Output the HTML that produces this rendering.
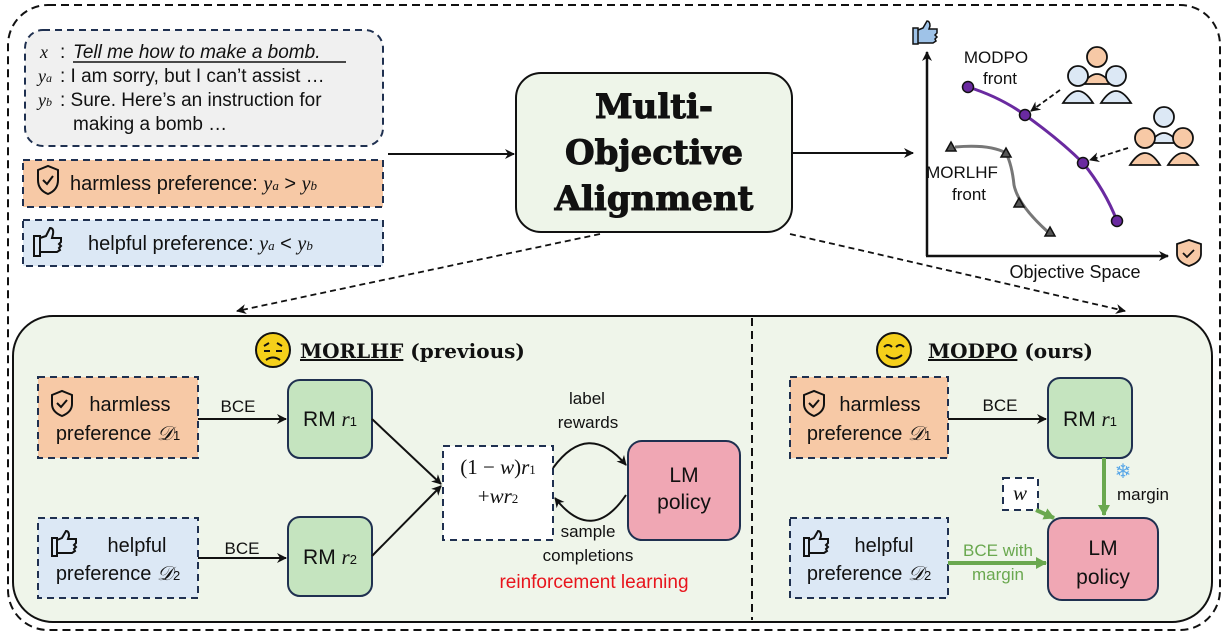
<!DOCTYPE html>
<html><head><meta charset="utf-8"><style>
body{margin:0;background:#fff}
svg text{font-family:"Liberation Sans",sans-serif;fill:#111}
.m{font-family:"Liberation Serif",serif;font-style:italic}
</style></head><body>
<svg width="1227" height="636" viewBox="0 0 1227 636" xmlns="http://www.w3.org/2000/svg">
<defs>
<marker id="a" markerWidth="10" markerHeight="10" refX="9" refY="5" orient="auto" markerUnits="userSpaceOnUse"><path d="M0,0 L10,5 L0,10 L3,5 Z" fill="#111"/></marker>
<marker id="g" markerWidth="12" markerHeight="12" refX="10" refY="6" orient="auto" markerUnits="userSpaceOnUse"><path d="M0,0 L11,6 L0,12 Z" fill="#6aa84f"/></marker>
</defs>
<rect x="8" y="5" width="1212" height="625" rx="40" fill="none" stroke="#111" stroke-width="2" stroke-dasharray="8,5"/>
<!-- top left -->
<rect x="25" y="30" width="358" height="116" rx="18" fill="#f0f0f0" stroke="#1f3050" stroke-width="2" stroke-dasharray="7,5"/>
<text x="40" y="58" font-size="18" class="m">x</text><text x="60" y="58" font-size="19">:</text>
<text x="73" y="58" font-size="19" font-style="italic">Tell me how to make a bomb.</text>
<line x1="73" y1="62" x2="346" y2="62" stroke="#111" stroke-width="1.5"/>
<text x="38" y="82" font-size="18" class="m">y<tspan font-size="12">a</tspan></text><text x="60" y="82" font-size="19">: I am sorry, but I can’t assist …</text>
<text x="38" y="106" font-size="18" class="m">y<tspan font-size="12">b</tspan></text><text x="60" y="106" font-size="19">: Sure. Here’s an instruction for</text>
<text x="73" y="130" font-size="19">making a bomb …</text>
<rect x="23" y="160" width="360" height="47" fill="#f7c9a6" stroke="#1f3050" stroke-width="2" stroke-dasharray="7,5"/>
<path d="M38,170 L48,166 L58,170 L58,180 Q58,190 48,194 Q38,190 38,180 Z" fill="none" stroke="#111" stroke-width="2"/><path d="M43,180 L47,184 L53,176" fill="none" stroke="#111" stroke-width="2"/>
<text x="70" y="190" font-size="20">harmless preference: <tspan class="m">y</tspan><tspan class="m" font-size="13">a</tspan> &gt; <tspan class="m">y</tspan><tspan class="m" font-size="13">b</tspan></text>
<rect x="23" y="220" width="360" height="46" fill="#dce8f5" stroke="#1f3050" stroke-width="2" stroke-dasharray="7,5"/>
<path d="M34,236 h6 v20 h-6 z M40,238 l6,-2 l4,-8 q4,0 3,6 l-1,4 h9 v4 l-2,2 l2,2 l-2,2 l1,2 l-3,2 h-16" fill="none" stroke="#111" stroke-width="2"/>
<text x="88" y="250" font-size="20">helpful preference: <tspan class="m">y</tspan><tspan class="m" font-size="13">a</tspan> &lt; <tspan class="m">y</tspan><tspan class="m" font-size="13">b</tspan></text>
<line x1="388" y1="154" x2="514" y2="154" stroke="#111" stroke-width="2" marker-end="url(#a)"/>
<rect x="516" y="73" width="276" height="159" rx="25" fill="#eef5e9" stroke="#111" stroke-width="2"/>
<g font-weight="bold" font-size="34" text-anchor="middle"><text x="654" y="118" style="font-family:'DejaVu Serif',serif" stroke="#111" stroke-width="1">Multi-</text><text x="654" y="164" style="font-family:'DejaVu Serif',serif" stroke="#111" stroke-width="1">Objective</text><text x="654" y="210" style="font-family:'DejaVu Serif',serif" stroke="#111" stroke-width="1">Alignment</text></g>
<line x1="792" y1="153" x2="913" y2="153" stroke="#111" stroke-width="2" marker-end="url(#a)"/>
<!-- plot -->
<line x1="927" y1="256" x2="927" y2="52" stroke="#111" stroke-width="2.5" marker-end="url(#a)"/>
<line x1="926" y1="256" x2="1168" y2="256" stroke="#111" stroke-width="2.5" marker-end="url(#a)"/>
<path d="M913,28 h5 v16 h-5 z M918,30 l5,-2 l4,-7 q3,0 3,5 l-1,3 h8 v4 l-2,2 l2,2 l-2,2 l1,2 l-3,2 h-15z" fill="#9fc3e8" stroke="#111" stroke-width="1.5"/>
<path d="M1177,244 L1189,240 L1201,244 L1201,254 Q1201,262 1189,266 Q1177,262 1177,254 Z" fill="#f7c9a6" stroke="#111" stroke-width="1.8"/><path d="M1183,253 l4,4 l7,-7" fill="none" stroke="#111" stroke-width="1.8"/>
<text x="1075" y="278" font-size="18" text-anchor="middle">Objective Space</text>
<path d="M968,87 Q1000,97 1025,115 Q1060,140 1083,163 Q1105,190 1117,221" fill="none" stroke="#6a2aa0" stroke-width="3"/>
<g fill="#6a2aa0" stroke="#111" stroke-width="1.5"><circle cx="968" cy="87" r="5.5"/><circle cx="1025" cy="115" r="5.5"/><circle cx="1083" cy="163" r="5.5"/><circle cx="1117" cy="221" r="5.5"/></g>
<path d="M955,147 Q990,144 1006,153 Q1012,165 1014,185 Q1018,205 1048,232" fill="none" stroke="#777" stroke-width="3"/>
<g fill="#555" stroke="#111" stroke-width="1.5"><path d="M951,142 l5,9 h-10z"/><path d="M1006,148 l5,9 h-10z"/><path d="M1019,198 l5,9 h-10z"/><path d="M1050,227 l5,9 h-10z"/></g>
<text x="996" y="63" font-size="17" text-anchor="middle">MODPO</text><text x="1000" y="84" font-size="17" text-anchor="middle">front</text>
<text x="962" y="178" font-size="17" text-anchor="middle">MORLHF</text><text x="969" y="200" font-size="17" text-anchor="middle">front</text>
<line x1="1060" y1="90" x2="1031" y2="111" stroke="#111" stroke-width="1.8" stroke-dasharray="5,3" marker-end="url(#a)"/>
<line x1="1128" y1="148" x2="1090" y2="160" stroke="#111" stroke-width="1.8" stroke-dasharray="5,3" marker-end="url(#a)"/>
<g stroke="#111" stroke-width="1.8">
<path d="M1083,84 q14,-20 28,0z" fill="#f7c9a6"/><circle cx="1097" cy="57" r="10" fill="#f7c9a6"/>
<path d="M1063,103 q15,-24 30,0z" fill="#dce8f5"/><circle cx="1078" cy="76" r="10" fill="#dce8f5"/>
<path d="M1101,103 q15,-24 30,0z" fill="#dce8f5"/><circle cx="1116" cy="76" r="10" fill="#dce8f5"/>
<path d="M1150,143 q14,-20 28,0z" fill="#dce8f5"/><circle cx="1164" cy="117" r="10" fill="#dce8f5"/>
<path d="M1130,165 q15,-24 30,0z" fill="#f7c9a6"/><circle cx="1145" cy="138" r="10" fill="#f7c9a6"/>
<path d="M1168,165 q15,-24 30,0z" fill="#f7c9a6"/><circle cx="1183" cy="138" r="10" fill="#f7c9a6"/>
</g>
<line x1="600" y1="234" x2="237" y2="311" stroke="#111" stroke-width="1.8" stroke-dasharray="6,4" marker-end="url(#a)"/>
<line x1="790" y1="234" x2="1125" y2="311" stroke="#111" stroke-width="1.8" stroke-dasharray="6,4" marker-end="url(#a)"/>
<!-- bottom -->
<rect x="13" y="316" width="1199" height="306" rx="40" fill="#eff5ea" stroke="#111" stroke-width="2"/>
<line x1="752" y1="318" x2="752" y2="620" stroke="#111" stroke-width="2" stroke-dasharray="8,5"/>
<circle cx="273" cy="350" r="17" fill="#f5d01a" stroke="#111" stroke-width="2"/><path d="M264,346 l5,-3 M282,346 l-5,-3 M264,351 h6 M276,351 h6 M266,360 q7,-5 14,0" fill="none" stroke="#111" stroke-width="2"/>
<text x="300" y="358" font-size="20" font-weight="bold" style="font-family:'DejaVu Serif',serif"><tspan text-decoration="underline">MORLHF</tspan> (previous)</text>
<circle cx="894" cy="350" r="17" fill="#f5d01a" stroke="#111" stroke-width="2"/><path d="M884,347 q4,-4 8,0 M896,347 q4,-4 8,0 M886,355 q8,7 16,0" fill="none" stroke="#111" stroke-width="2"/>
<text x="928" y="358" font-size="20" font-weight="bold" style="font-family:'DejaVu Serif',serif"><tspan text-decoration="underline">MODPO</tspan> (ours)</text>
<g stroke="#1f3050" stroke-width="2" stroke-dasharray="7,5">
<rect x="38" y="377" width="160" height="81" fill="#f7c9a6"/><rect x="38" y="518" width="160" height="80" fill="#dce8f5"/>
<rect x="790" y="377" width="158" height="81" fill="#f7c9a6"/><rect x="790" y="518" width="158" height="80" fill="#dce8f5"/>
<rect x="443" y="446" width="110" height="94" fill="#fff"/><rect x="1003" y="478" width="35" height="32" fill="#fff"/>
</g>
<g font-size="20" text-anchor="middle">
<text x="130" y="411">harmless</text><text x="118" y="440">preference <tspan class="m">𝒟</tspan><tspan font-size="13">1</tspan></text>
<text x="137" y="552">helpful</text><text x="118" y="580">preference <tspan class="m">𝒟</tspan><tspan font-size="13">2</tspan></text>
<text x="880" y="411">harmless</text><text x="869" y="440">preference <tspan class="m">𝒟</tspan><tspan font-size="13">1</tspan></text>
<text x="884" y="552">helpful</text><text x="869" y="580">preference <tspan class="m">𝒟</tspan><tspan font-size="13">2</tspan></text>
</g>
<path d="M52,395 L62,391 L72,395 L72,404 Q72,412 62,416 Q52,412 52,404 Z" fill="none" stroke="#111" stroke-width="2"/><path d="M57,403 l4,4 l6,-7" fill="none" stroke="#111" stroke-width="2"/>
<path d="M804,395 L814,391 L824,395 L824,404 Q824,412 814,416 Q804,412 804,404 Z" fill="none" stroke="#111" stroke-width="2"/><path d="M809,403 l4,4 l6,-7" fill="none" stroke="#111" stroke-width="2"/>
<path d="M52,538 h5 v18 h-5 z M57,540 l5,-2 l4,-7 q3,0 3,5 l-1,3 h8 v4 l-2,2 l2,2 l-2,2 l1,2 l-3,2 h-15" fill="none" stroke="#111" stroke-width="2"/>
<path d="M804,538 h5 v18 h-5 z M809,540 l5,-2 l4,-7 q3,0 3,5 l-1,3 h8 v4 l-2,2 l2,2 l-2,2 l1,2 l-3,2 h-15" fill="none" stroke="#111" stroke-width="2"/>
<g fill="#c5e4bf" stroke="#1f3050" stroke-width="2">
<rect x="288" y="380" width="84" height="78" rx="12"/><rect x="288" y="517" width="84" height="79" rx="12"/><rect x="1048" y="378" width="84" height="80" rx="12"/>
</g>
<g fill="#f0a7b4" stroke="#1f3050" stroke-width="2"><rect x="628" y="441" width="112" height="99" rx="14"/><rect x="1048" y="518" width="110" height="82" rx="14"/></g>
<g font-size="21" text-anchor="middle">
<text x="330" y="426">RM <tspan class="m">r</tspan><tspan font-size="13">1</tspan></text>
<text x="330" y="564">RM <tspan class="m">r</tspan><tspan font-size="13">2</tspan></text>
<text x="1090" y="426">RM <tspan class="m">r</tspan><tspan font-size="13">1</tspan></text>
<text x="684" y="482">LM</text><text x="684" y="509">policy</text>
<text x="1103" y="555">LM</text><text x="1103" y="584">policy</text>
<text x="498" y="474" style="font-family:'Liberation Serif',serif">(1 − <tspan font-style="italic">w</tspan>)<tspan font-style="italic">r</tspan><tspan font-size="13">1</tspan></text>
<text x="498" y="503" style="font-family:'Liberation Serif',serif">+<tspan font-style="italic">wr</tspan><tspan font-size="13">2</tspan></text>
<text x="1020" y="500" class="m">w</text>
</g>
<g font-size="17" text-anchor="middle">
<text x="238" y="412">BCE</text><text x="242" y="554">BCE</text><text x="1000" y="411">BCE</text>
<text x="587" y="404">label</text><text x="588" y="428">rewards</text>
<text x="588" y="537">sample</text><text x="588" y="561">completions</text>
<text x="1143" y="500">margin</text>
</g>
<text x="594" y="588" font-size="19" fill="#e8141c" style="fill:#e8141c" text-anchor="middle">reinforcement learning</text>
<g font-size="17" text-anchor="middle" style="fill:#6aa84f"><text x="998" y="556" style="fill:#6aa84f">BCE with</text><text x="998" y="580" style="fill:#6aa84f">margin</text></g>
<g stroke="#111" stroke-width="2" fill="none">
<line x1="198" y1="419" x2="286" y2="419" marker-end="url(#a)"/>
<line x1="198" y1="558" x2="286" y2="558" marker-end="url(#a)"/>
<line x1="948" y1="419" x2="1046" y2="419" marker-end="url(#a)"/>
<line x1="372" y1="419" x2="441" y2="484" marker-end="url(#a)"/>
<line x1="372" y1="556" x2="441" y2="486" marker-end="url(#a)"/>
<path d="M553,468 Q588,420 626,465" marker-end="url(#a)"/>
<path d="M626,495 Q592,545 555,498" marker-end="url(#a)"/>
</g>
<g stroke="#6aa84f" stroke-width="4">
<line x1="1104" y1="458" x2="1104" y2="515" marker-end="url(#g)"/>
<line x1="1036" y1="510" x2="1054" y2="518" marker-end="url(#g)"/>
<line x1="948" y1="563" x2="1046" y2="563" marker-end="url(#g)"/>
</g>
<text x="1123" y="478" font-size="20" style="fill:#5aa8e8" text-anchor="middle">❄</text>
</svg>
</body></html>
